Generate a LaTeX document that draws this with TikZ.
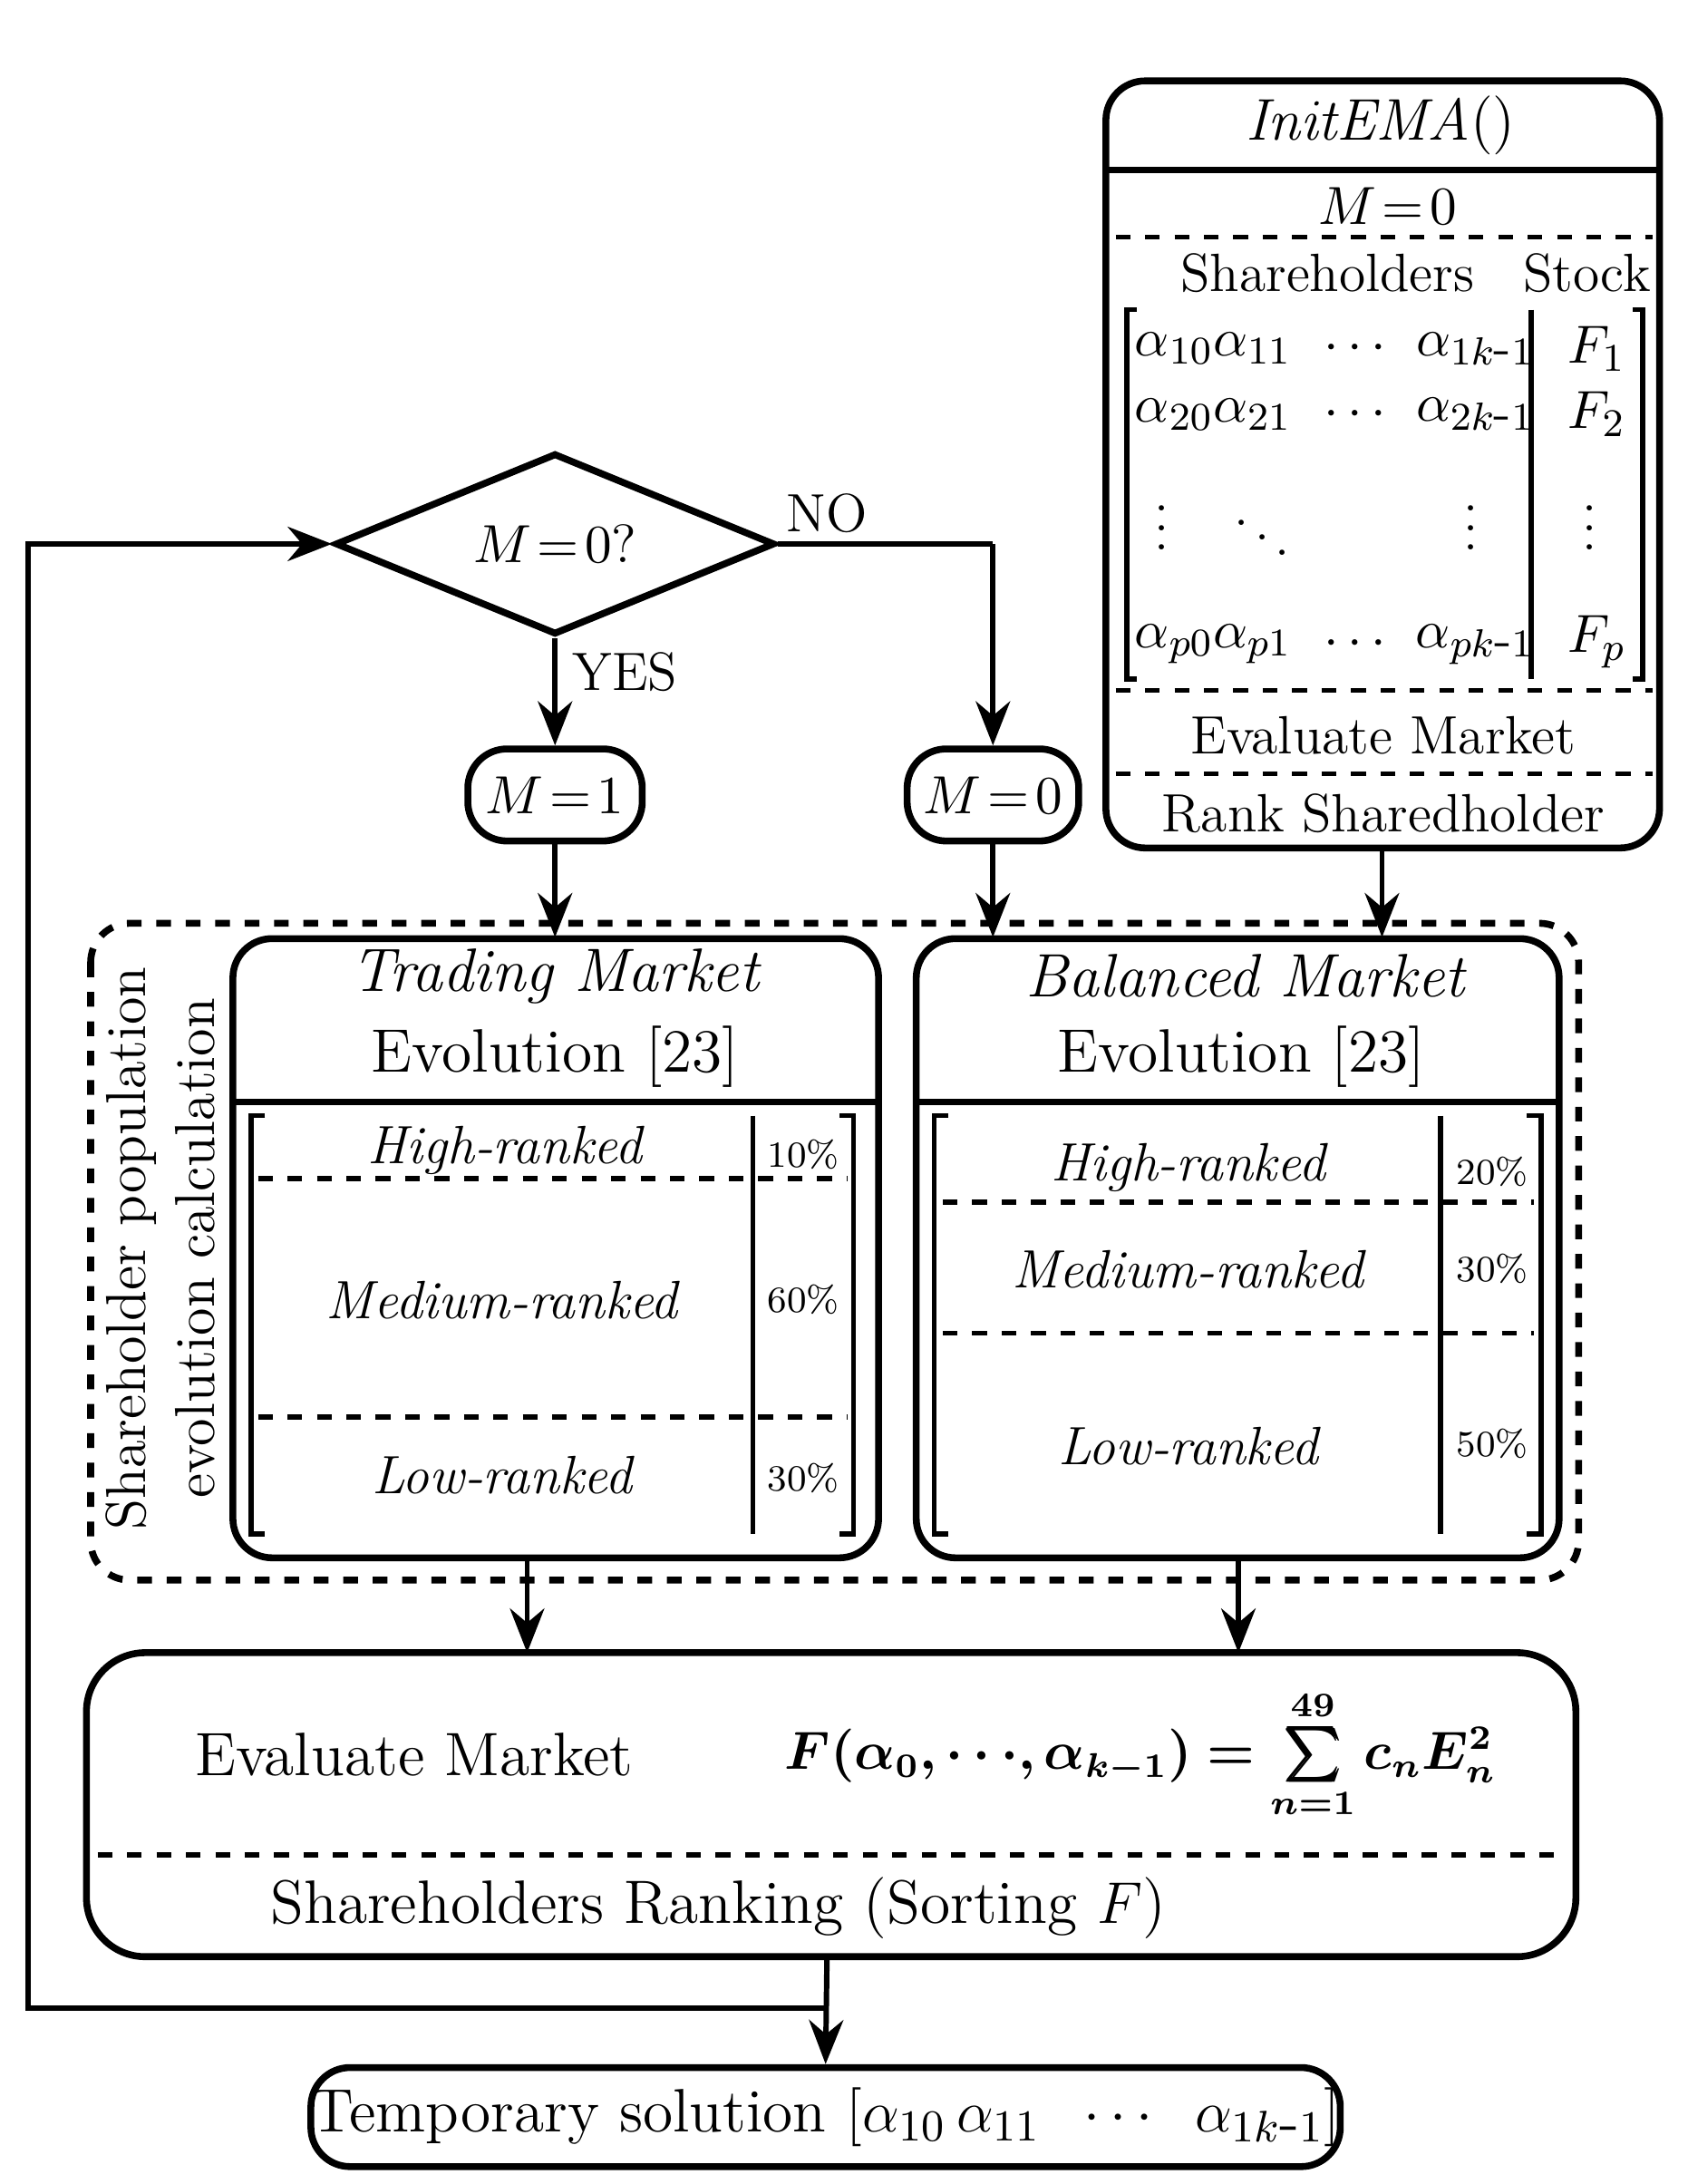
\documentclass[tikz,border=0pt]{standalone}
\usepackage{amsmath,bm}
\usetikzlibrary{shapes.geometric,arrows.meta}
\begin{document}
\begin{tikzpicture}[x=0.01cm,y=-0.01cm,
  box/.style={draw,line width=1.4pt,rounded corners=8pt},
  arr/.style={line width=1.1pt,-{Stealth[length=9pt,width=7pt]}},
  dl/.style={dashed,line width=1pt},
  t/.style={font=\fontsize{11}{12}\selectfont,inner sep=0pt},
  big/.style={font=\fontsize{12.5}{14}\selectfont,inner sep=0pt},
  ti/.style={font=\fontsize{11}{12}\selectfont\itshape,inner sep=0pt},
  p/.style={font=\fontsize{7.5}{9}\selectfont,inner sep=0pt},
  br/.style={line width=1pt}]
\useasboundingbox (0,0) rectangle (1210,1566);
% InitEMA
\draw[box] (793,58) rectangle (1190,608);
\coordinate (ibs) at (991,608);
\draw[line width=1.2pt] (793,122) -- (1190,122);
\node[big] (it) at (990,90) {$\mathit{InitEMA}()$};
\node[t] (m0a) at (995,148) {$M\!=\!0$};
\draw[dl] (800,170) -- (1185,170);
\node[t] (sh) at (952,196) {Shareholders};
\node[t] (st) at (1138,196) {Stock};
\draw[br] (815,222) -- (808,222) -- (808,487) -- (815,487);
\draw[br] (1171,222) -- (1178,222) -- (1178,487) -- (1171,487);
\draw[br] (1098,222) -- (1098,487);
\foreach \y/\r in {250/1,297/2}{
 \node[t] at (842,\y) {$\alpha_{\r0}$};
 \node[t] at (898,\y) {$\alpha_{\r1}$};
 \node[t] at (975,\y) {$\cdots$};
 \node[t] at (1058,\y) {$\alpha_{\r k\mbox{-}1}$};
 \node[t] at (1145,\y) {$F_{\r}$};}
\node[t] at (842,462) {$\alpha_{p0}$};
\node[t] at (898,462) {$\alpha_{p1}$};
\node[t] at (975,462) {$\cdots$};
\node[t] at (1058,462) {$\alpha_{pk\mbox{-}1}$};
\node[t] at (1145,460) {$F_{p}$};
\node[t] at (833,368) {$\vdots$};
\node[t] at (905,375) {$\ddots$};
\node[t] at (1055,368) {$\vdots$};
\node[t] at (1140,368) {$\vdots$};
\draw[dl] (800,495) -- (1185,495);
\node[t] at (992,527) {Evaluate Market};
\draw[dl] (800,555) -- (1185,555);
\node[t] at (992,583) {Rank Sharedholder};
% diamond
\node[draw,diamond,line width=1.4pt,inner sep=0pt,
  minimum width=3.15cm,minimum height=1.3cm] (d) at (398,390) {};
\node[t] at (398,390) {$M\!=\!0$?};
\node[t] at (593,368) {NO};
\node[t] at (448,482) {YES};
% M boxes
\node[box,t,minimum width=1.25cm,minimum height=0.66cm] (m1) at (398,570) {$M\!=\!1$};
\node[box,t,minimum width=1.23cm,minimum height=0.66cm] (m0) at (712,570) {$M\!=\!0$};
\draw[arr] (d.south) -- (m1.north);
\draw[line width=1.1pt] (d.east) -- (712,390) coordinate (c1);
\draw[arr] (c1) -- (m0.north);
% outer dashed
\draw[dashed,line width=1.4pt,rounded corners=8pt] (65,662) rectangle (1132,1133);
\node[rotate=90,align=center,inner sep=0pt,font=\fontsize{11.5}{14}\selectfont] at (115,895) {Shareholder population\\evolution calculation};
% Trading
\draw[box] (167,673) rectangle (630,1117);
\draw[line width=1.2pt] (167,790) -- (630,790);
\node[big,font=\fontsize{12.5}{14}\selectfont\itshape] at (398,700) {Trading Market};
\node[big] at (398,758) {Evolution [23]};
\draw[br] (190,800) -- (180,800) -- (180,1100) -- (190,1100);
\draw[br] (602,800) -- (612,800) -- (612,1100) -- (602,1100);
\draw[br] (540,800) -- (540,1100);
\node[ti] at (362,825) {High-ranked};
\draw[dl] (185,845) -- (608,845);
\node[ti] at (360,932) {Medium-ranked};
\draw[dl] (185,1016) -- (608,1016);
\node[ti] at (360,1058) {Low-ranked};
\node[p] at (576,828) {10\%};
\node[p] at (576,932) {60\%};
\node[p] at (576,1060) {30\%};
% Balanced
\draw[box] (657,673) rectangle (1118,1117);
\draw[line width=1.2pt] (657,790) -- (1118,790);
\node[big,font=\fontsize{12.5}{14}\selectfont\itshape] at (893,700) {Balanced Market};
\node[big] at (890,758) {Evolution [23]};
\draw[br] (680,800) -- (670,800) -- (670,1100) -- (680,1100);
\draw[br] (1095,800) -- (1105,800) -- (1105,1100) -- (1095,1100);
\draw[br] (1033,800) -- (1033,1100);
\node[ti] at (852,837) {High-ranked};
\draw[dl] (676,862) -- (1100,862);
\node[ti] at (852,910) {Medium-ranked};
\draw[dl] (676,956) -- (1100,956);
\node[ti] at (852,1037) {Low-ranked};
\node[p] at (1070,840) {20\%};
\node[p] at (1070,910) {30\%};
\node[p] at (1070,1035) {50\%};
% arrows into markets
\coordinate (t1) at (398,672); \coordinate (t2) at (712,672); \coordinate (t3) at (991,672);
\draw[arr] (m1.south) -- (t1);
\draw[arr] (m0.south) -- (t2);
\draw[arr] (ibs) -- (t3);
% Evaluate box
\draw[box,rounded corners=12pt] (62,1185) rectangle (1130,1403);
\coordinate (s1) at (378,1117); \coordinate (e1) at (378,1185);
\coordinate (s2) at (888,1117); \coordinate (e2) at (888,1185);
\draw[arr] (s1) -- (e1);
\draw[arr] (s2) -- (e2);
\node[big] at (297,1258) {Evaluate Market};
\node[inner sep=0pt,font=\fontsize{10.5}{12}\selectfont] at (818,1258) {$\bm{F(\alpha_0,\cdots,\alpha_{k-1})=\sum\limits_{n=1}^{49}c_nE_n^2}$};
\draw[dl] (70,1330) -- (1120,1330);
\node[big] at (515,1368) {Shareholders Ranking (Sorting $F$)};
% temp box
\node[box,big,minimum width=7.2cm,minimum height=0.71cm] (tmp) at (592,1518)
  {Temporary solution $[\alpha_{10}\,\alpha_{11}\;\;\cdots\;\;\alpha_{1k\mbox{-}1}]$};
\coordinate (eb) at (593,1403);
\draw[arr] (eb) -- (tmp.north);
\coordinate (j) at (593,1440);
\draw[arr] (j) -- (20,1440) -- (20,390) -- (d.west);
\end{tikzpicture}
\end{document}
